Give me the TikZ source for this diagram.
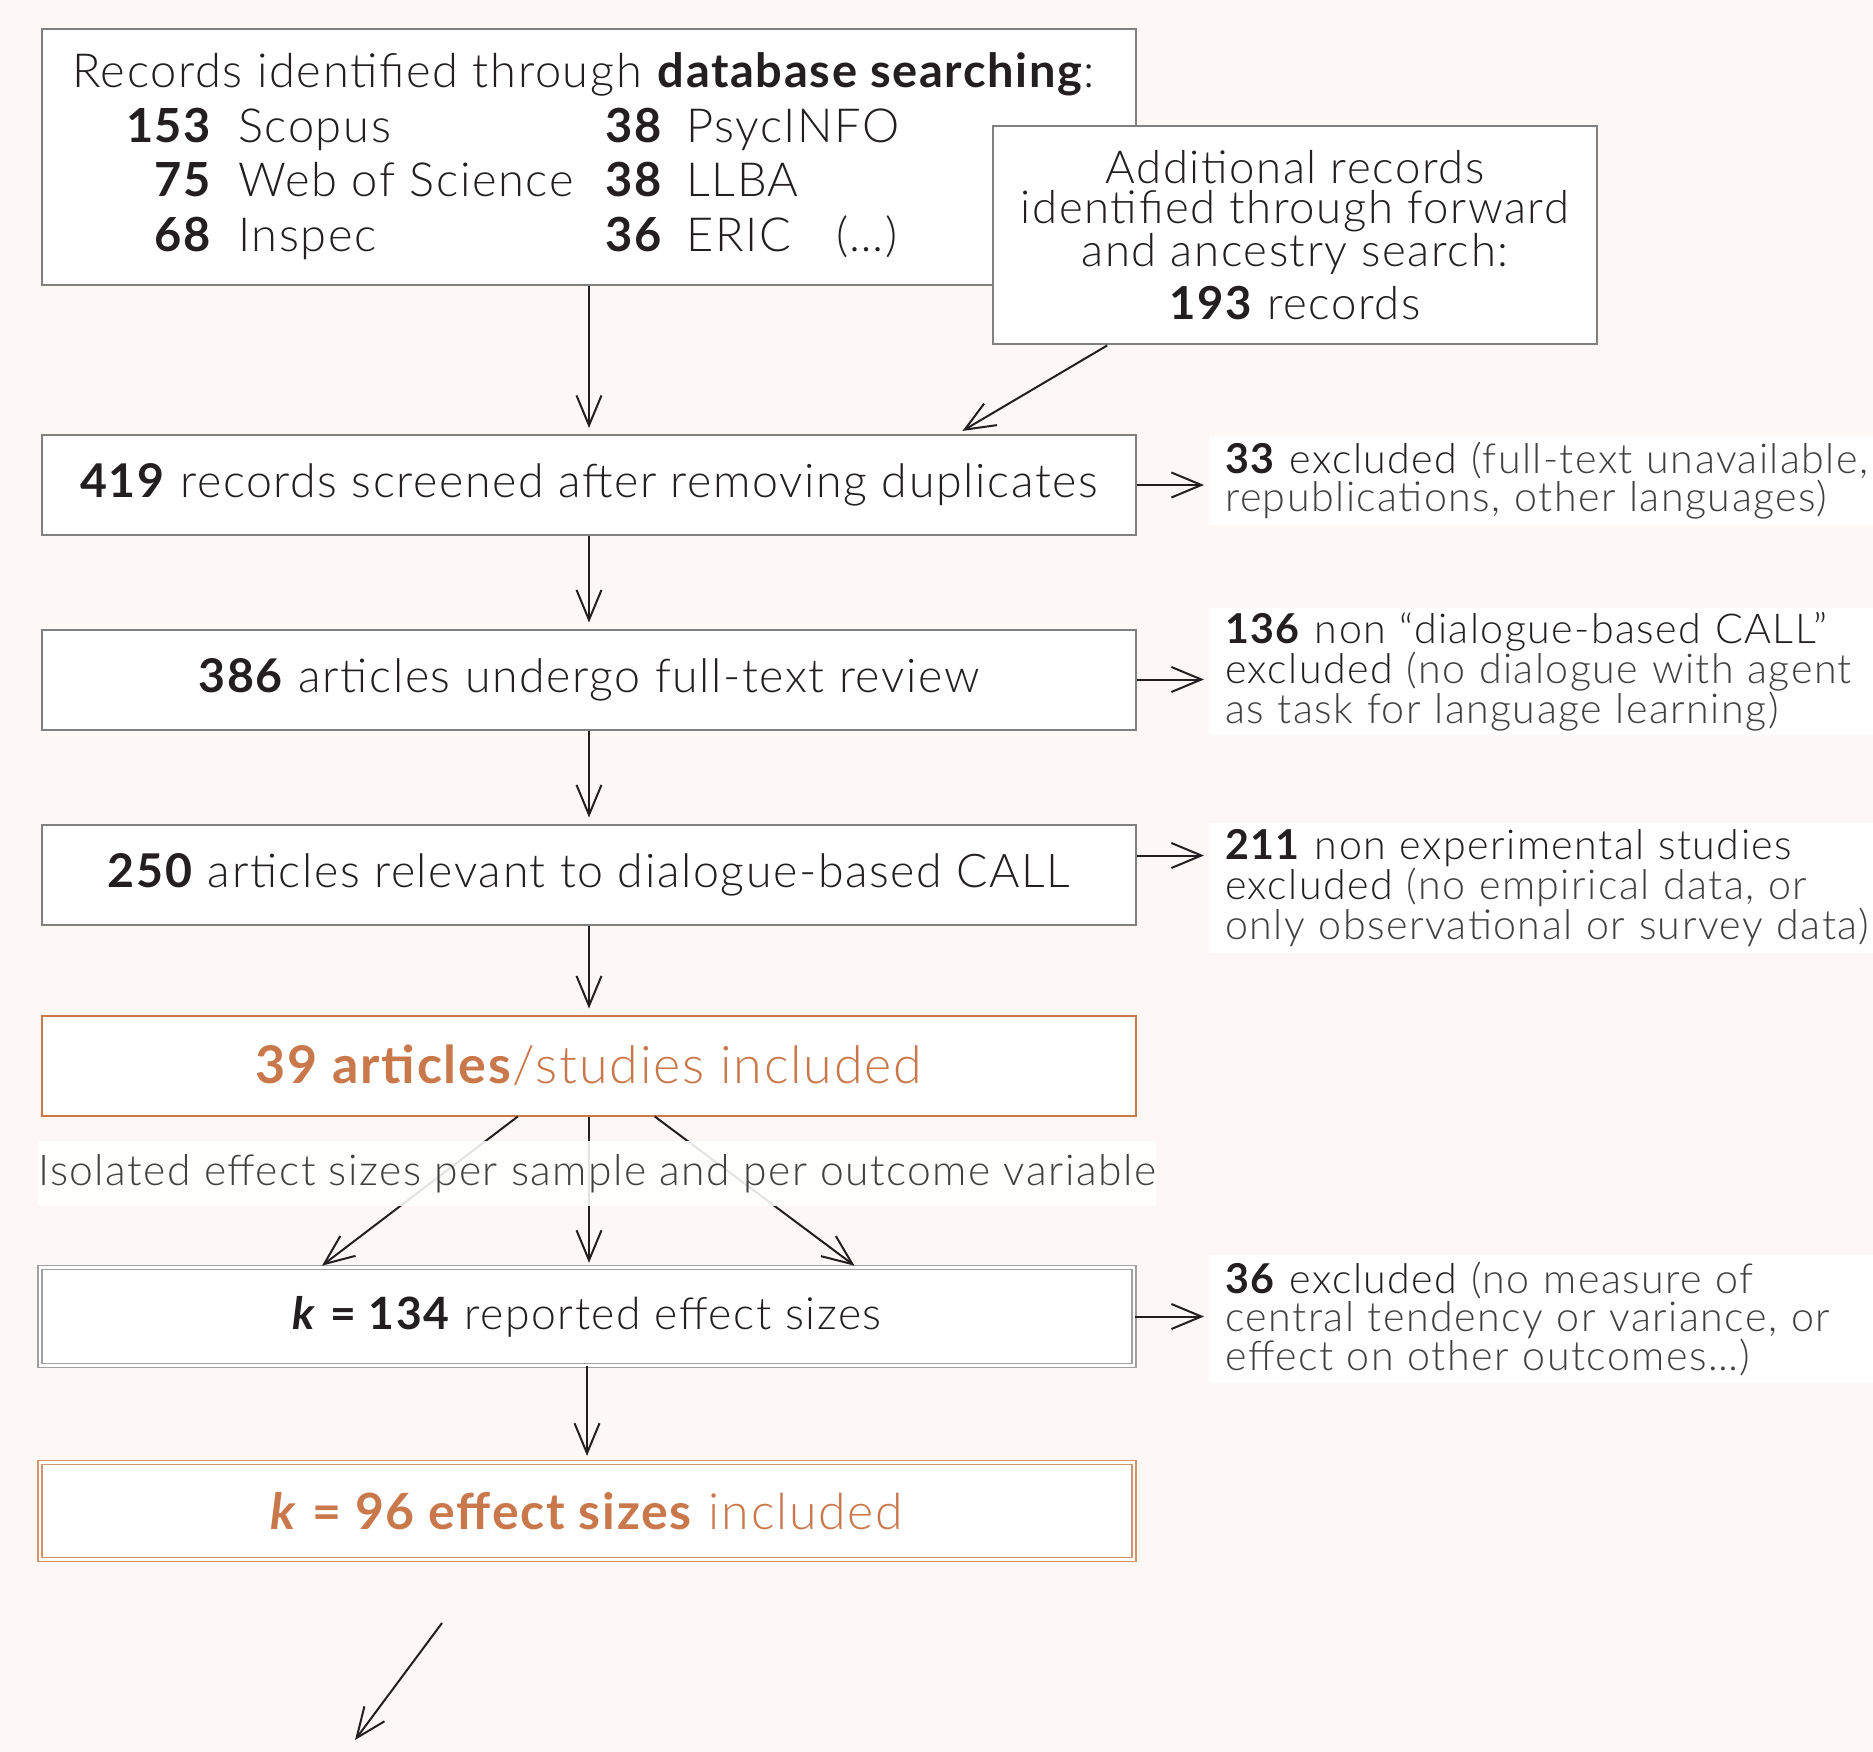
\documentclass[tikz,border=0pt]{standalone}
\usepackage{fontspec}
\setmainfont{Lato}[LetterSpace=3.5, UprightFont={* Light}, BoldFont={* Bold},
  ItalicFont={* Light Italic}, BoldItalicFont={* Bold Italic}]
\usetikzlibrary{arrows.meta,calc}
\definecolor{bgc}{HTML}{FDF8F5}
\definecolor{ink}{HTML}{231F20}
\definecolor{soft}{HTML}{404040}
\definecolor{boxgray}{HTML}{808080}
\definecolor{copper}{HTML}{C8784A}
\newcommand{\myBig}{\fontsize{46.5}{50}\selectfont}
\newcommand{\myHuge}{\fontsize{50}{54}\selectfont}
\newcommand{\myMid}{\fontsize{47}{50}\selectfont}
\newcommand{\mySmall}{\fontsize{41.2}{38}\selectfont}
\tikzset{
  box/.style={draw=boxgray, line width=2pt, fill=white, inner sep=0pt,
    minimum width=1094pt, minimum height=100pt, font=\myBig, text=ink},
  dbox/.style={draw=boxgray!75, double=white, double distance=2.5pt, line width=1.3pt,
    fill=white, inner sep=0pt, minimum width=1094pt, font=\myBig, text=ink},
  arr/.style={draw=ink, line width=2pt, -{Straight Barb[length=30pt,width=25pt]}, shorten >=6pt},
  lab/.style={fill=white, anchor=west, align=left, text width=680pt, inner xsep=16pt,
    inner ysep=0pt, font=\mySmall, text=ink},
  txt/.style={inner sep=0pt, font=\myMid, text=ink},
}
\begin{document}
\begin{tikzpicture}[x=1pt,y=-1pt]
\useasboundingbox (0,0) rectangle (1873,1752);
\fill[bgc] (0,0) rectangle (1873,1752);

% top box
\node[box, minimum height=256pt] (top) at (589,157) {};
\node[txt, anchor=base west] (t0) at (72,88) {Records identified through \textbf{database searching}:};
\node[txt, anchor=base east] (n1) at (213,143) {\textbf{153}};
\node[txt, anchor=base east] (n2) at (213,197) {\textbf{75}};
\node[txt, anchor=base east] (n3) at (213,252) {\textbf{68}};
\node[txt, anchor=base west] (s1) at (238,143) {Scopus};
\node[txt, anchor=base west] (s2) at (238,197) {Web of Science};
\node[txt, anchor=base west] (s3) at (238,252) {Inspec};
\node[txt, anchor=base east] (n4) at (664,143) {\textbf{38}};
\node[txt, anchor=base east] (n5) at (664,197) {\textbf{38}};
\node[txt, anchor=base east] (n6) at (664,252) {\textbf{36}};
\node[txt, anchor=base west] (s4) at (686,143) {PsycINFO};
\node[txt, anchor=base west] (s5) at (686,197) {LLBA};
\node[txt, anchor=base west] (s6) at (686,252) {ERIC};
\node[txt, anchor=base west] (s7) at (836,252) {(…)};

% additional box
\node[box, minimum width=604pt, minimum height=218pt, align=center,
  font=\fontsize{45.5}{40}\selectfont] (add) at (1295,235.5)
  {Additional records\\ identified through forward\\ and ancestry search:\\[11pt] \textbf{193} records};

% main column
\node[box] (b419) at (589,485) {\textbf{419} records screened after removing duplicates};
\node[box] (b386) at (589,679.5) {\textbf{386} articles undergo full-text review};
\node[box] (b250) at (589,874.5) {\textbf{250} articles relevant to dialogue-based CALL};
\node[box, draw=copper, text=copper, font=\fontsize{52}{56}\selectfont] (b39) at (589,1065.5) {\textbf{39 articles}/studies included};
\node[dbox, minimum height=98pt, font=\fontsize{44.5}{50}\selectfont] (b134) at (587,1316.5) {\textbf{\textit{k}} \textbf{= 134} reported effect sizes};
\node[dbox, draw=copper!80, text=copper, minimum height=97pt, font=\myHuge] (b96) at (587,1511) {\textbf{\textit{k} = 96 effect sizes} included};

% right labels
\node[lab, minimum height=89pt] (l1) at (1209,480.5)
  {\textbf{33} excluded \color{soft}(full-text unavailable,\\ republications, other languages)};
\node[lab, minimum height=127pt] (l2) at (1209,671.5)
  {\textbf{136} non “dialogue-based CALL”\\ excluded \color{soft}(no dialogue with agent\\ as task for language learning)};
\node[lab, minimum height=130pt] (l3) at (1209,888)
  {\textbf{211} non experimental studies\\ excluded \color{soft}(no empirical data, or\\ only observational or survey data)};
\node[lab, minimum height=128pt] (l4) at (1209,1319)
  {\textbf{36} excluded \color{soft}(no measure of\\ central tendency or variance, or\\ effect on other outcomes…)};

% connectors
\draw[arr] (top.south) -- (b419.north);
\draw[arr] ($(add.south west)!0.19!(add.south east)$) -- ($(b419.north west)!0.836!(b419.north east)$);
\draw[arr] (b419.south) -- (b386.north);
\draw[arr] (b386.south) -- (b250.north);
\draw[arr] (b250.south) -- (b39.north);
\draw[arr, shorten >=2pt] ($(b39.south west)!0.435!(b39.south east)$) -- ($(b134.north west)!0.2566!(b134.north east)$);
\draw[arr, shorten >=4pt] (b39.south) -- (b39.south |- b134.north);
\draw[arr, shorten >=2pt] ($(b39.south west)!0.56!(b39.south east)$) -- ($(b134.north west)!0.7457!(b134.north east)$);
\draw[arr] (b134.south) -- (b134.south |- b96.north);
\draw[arr, shorten >=5pt] (b419.east) -- (b419.east -| l1.west);
\draw[arr, shorten >=5pt] (b386.east) -- (b386.east -| l2.west);
\draw[arr, shorten >=5pt] ([yshift=19pt]b250.east) -- ([yshift=19pt]b250.east -| l3.west);
\draw[arr, shorten >=5pt] (b134.east) -- (b134.east -| l4.west);

\coordinate (c1) at (442,1623);
\coordinate (c2) at (355,1740);
\draw[arr, shorten >=0pt] (c1) -- (c2);

% effect-size label over the arrows
\node[fill=white, fill opacity=0.88, text opacity=1, inner sep=0pt, minimum width=1114pt,
  minimum height=65pt, font=\fontsize{42.6}{45}\selectfont, text=soft] (iso) at (597,1173.5)
  {Isolated effect sizes per sample and per outcome variable};
\end{tikzpicture}
\end{document}
